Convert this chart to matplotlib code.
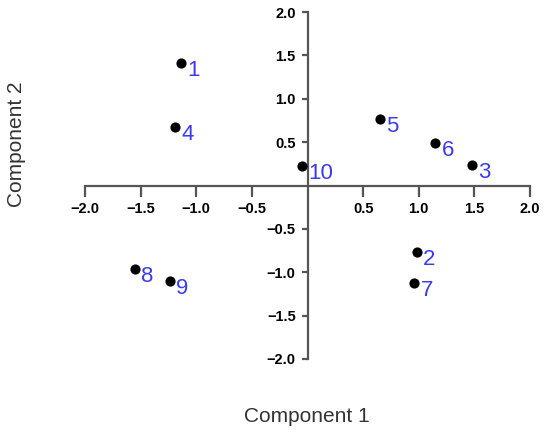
import matplotlib
matplotlib.use('Agg')
import matplotlib.pyplot as plt

# PCA scores
ids = ['1', '2', '3', '4', '5', '6', '7', '8', '9', '10']
comp1 = [-1.14, 0.98, 1.48, -1.19, 0.65, 1.15, 0.96, -1.55, -1.24, -0.05]
comp2 = [1.41, -0.77, 0.24, 0.68, 0.77, 0.49, -1.12, -0.96, -1.10, 0.23]
ticks = [-2.0, -1.5, -1.0, -0.5, 0.5, 1.0, 1.5, 2.0]

plt.rcParams['font.family'] = ['Liberation Sans', 'DejaVu Sans']

fig = plt.figure(figsize=(5.5, 4.34), dpi=100)
ax = fig.add_axes([85/550, 75/434, 445/550, 347/434])

ax.scatter(comp1, comp2, s=40, color='black', zorder=3, clip_on=False)
for name, x, y in zip(ids, comp1, comp2):
    ax.annotate(name, (x, y), xytext=(4.5, -5.5), textcoords='offset points',
                ha='left', va='center', fontsize=16, color='#3a3af0')

ax.set_xlim(-2.0, 2.0)
ax.set_ylim(-2.0, 2.0)

# axes crossing at the origin
for side in ['top', 'right']:
    ax.spines[side].set_visible(False)
for side in ['left', 'bottom']:
    ax.spines[side].set_position(('data', 0))
    ax.spines[side].set_color('#555555')
    ax.spines[side].set_linewidth(1.6)

labels = [('%.1f' % t).replace('-', '\u2212') for t in ticks]
ax.set_xticks(ticks)
ax.set_yticks(ticks)
ax.set_xticklabels(labels, fontweight='bold', fontsize=10.5)
ax.set_yticklabels(labels, fontweight='bold', fontsize=10.5)
ax.tick_params(axis='x', direction='out', length=8, width=1.6, color='#555555', pad=4)
ax.tick_params(axis='y', direction='out', length=4.5, width=1.6, color='#555555', pad=4)

fig.text(307/550, 1 - 416/434, 'Component 1', ha='center', va='center',
         fontsize=15, color='#333333')
fig.text(17/550, 1 - 144/434, 'Component 2', ha='center', va='center',
         rotation=90, fontsize=15, color='#333333')

fig.savefig('out.png', dpi=100)
